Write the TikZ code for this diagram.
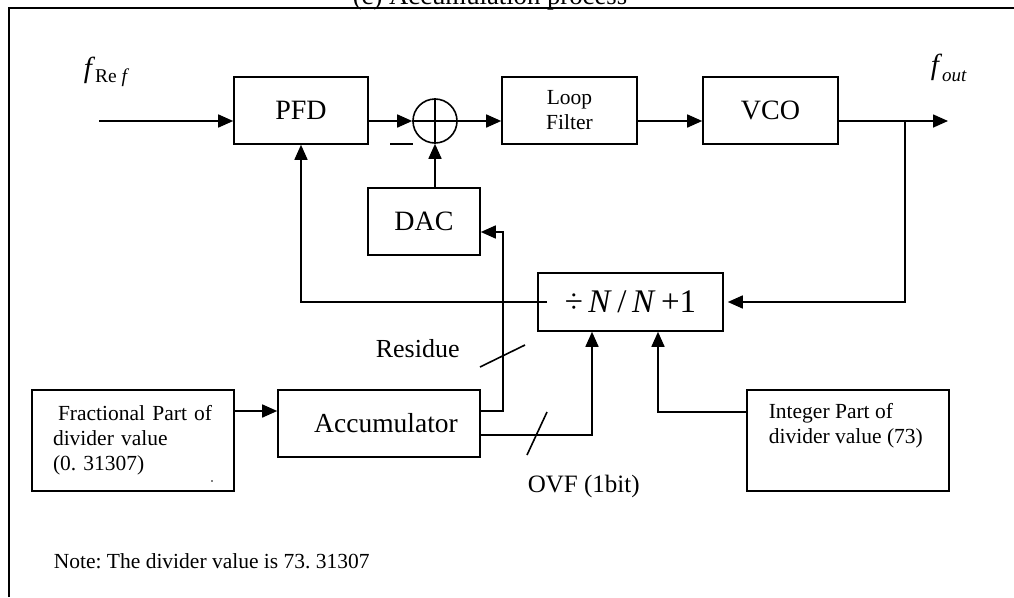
\documentclass[tikz,border=0pt]{standalone}
\usepackage{fontspec}
\setmainfont{Liberation Serif}
\usetikzlibrary{arrows.meta}
\newcommand{\fsz}[2]{\fontsize{#1}{#2}\selectfont}
\frenchspacing

\begin{document}
\begin{tikzpicture}[x=1pt, y=-1pt, line width=1.6pt,
    blk/.style={draw, inner sep=0pt, align=center},
    arr/.style={-{Triangle[length=15pt,width=13pt]}},
    big/.style={font=\fsz{28}{30}},
    small/.style={font=\fsz{21.5}{25}}]
    \useasboundingbox (0,0) rectangle (1014,597);
    % frame and title
    \node[font=\fsz{26.7}{30}, anchor=base, inner sep=0pt] (title) at (490,5) {(c) Accumulation process};
    \draw (9,597) -- (9,8) -- (1014,8);
    % loop blocks
    \node[blk, big, minimum width=134pt, minimum height=67pt] (pfd) at (301,110.5) {PFD};
    \node[draw, circle, minimum size=44pt, inner sep=0pt] (sum) at (435,121) {};
    \node[blk, small, minimum width=135pt, minimum height=67pt] (lf) at (569.5,110.5) {Loop\\Filter};
    \node[blk, big, minimum width=135pt, minimum height=67pt] (vco) at (770.5,110.5) {VCO};
    \node[blk, big, minimum width=112pt, minimum height=67pt] (dac) at (424,221.5) {DAC};
    \node[blk, font=\fsz{33}{35}, minimum width=185pt, minimum height=58pt] (div) at (630.5,302) {÷\,\textit{N}\,/\,\textit{N}\,+1};
    % divider control
    \node[blk, font=\fsz{27.5}{30}, minimum width=202pt, minimum height=67pt] (acc) at (379,423.5) {\hspace*{14pt}Accumulator};
    \node[blk, small, align=left, text width=160pt, minimum width=202pt, minimum height=101pt] (frac) at (133,440.5) {\hspace*{5pt}Fractional Part of\\divider value\\(0. 31307)};
    \node[blk, minimum width=202pt, minimum height=101pt] (intg) at (848,440.5) {};
    \node[small, align=left, anchor=north west, inner sep=0pt] (intgtxt) at (768,403) {Integer Part of\\divider value (73)};
    \fill (212,481) circle (0.8);
    % labels
    \node[anchor=base west, inner sep=0pt] (fref) at (83,77) {\fsz{29}{30}\textit{f}\raisebox{-5pt}{\fsz{19.5}{22}Re \textit{f}}};
    \node[anchor=base west, inner sep=0pt] (fout) at (930,74) {\fsz{29}{30}\textit{f}\raisebox{-7pt}{\fsz{19}{22}\textit{out}}};
    \node[font=\fsz{26}{28}, anchor=base west, inner sep=0pt] (res) at (375,357) {Residue};
    \node[font=\fsz{25}{28}, anchor=base west, inner sep=0pt] (ovf) at (527,492) {OVF (1bit)};
    \node[small, anchor=base west, inner sep=0pt] (note) at (53,568) {Note: The divider value is 73. 31307};
    \coordinate (fin) at (99,121);
    \coordinate (fo) at (948,121);
    \coordinate (br) at (905,121);
    \coordinate (accin) at ([yshift=12.5pt]acc.west);
    % forward path
    \draw[arr] (fin) -- (fin -| pfd.west);
    \draw[arr] (pfd.east |- sum) -- (sum.west);
    \draw[arr] (sum.east) -- (sum -| lf.west);
    \draw[arr] (lf.east |- sum) -- (vco.west |- sum);
    \draw[arr] (vco.east |- sum) -- (fo);
    \draw (sum.north) -- (sum.south) (sum.west) -- (sum.east);
    \draw (390,144) -- (413,144);
    % feedback
    \draw[arr] (br) |- ([xshift=4pt]div.east);
    \draw[arr] ([xshift=10pt]div.west) -| (pfd.south);
    \draw[arr] (sum |- dac.north) -- (sum.south);
    \draw[arr] ([yshift=12.5pt]acc.east) -- ++(22,0) |- ([yshift=-10.5pt]dac.east);
    \draw[arr] ([yshift=-11.5pt]acc.east) -| ([xshift=-38.5pt]div.south);
    \draw[arr] ([yshift=28.5pt]intg.west) -| ([xshift=27.5pt]div.south);
    \draw[arr] (frac.east |- accin) -- (accin);
    % bus slashes
    \draw (480,367) -- (525,345);
    \draw (527,455) -- (547,412);
\end{tikzpicture}
\end{document}
